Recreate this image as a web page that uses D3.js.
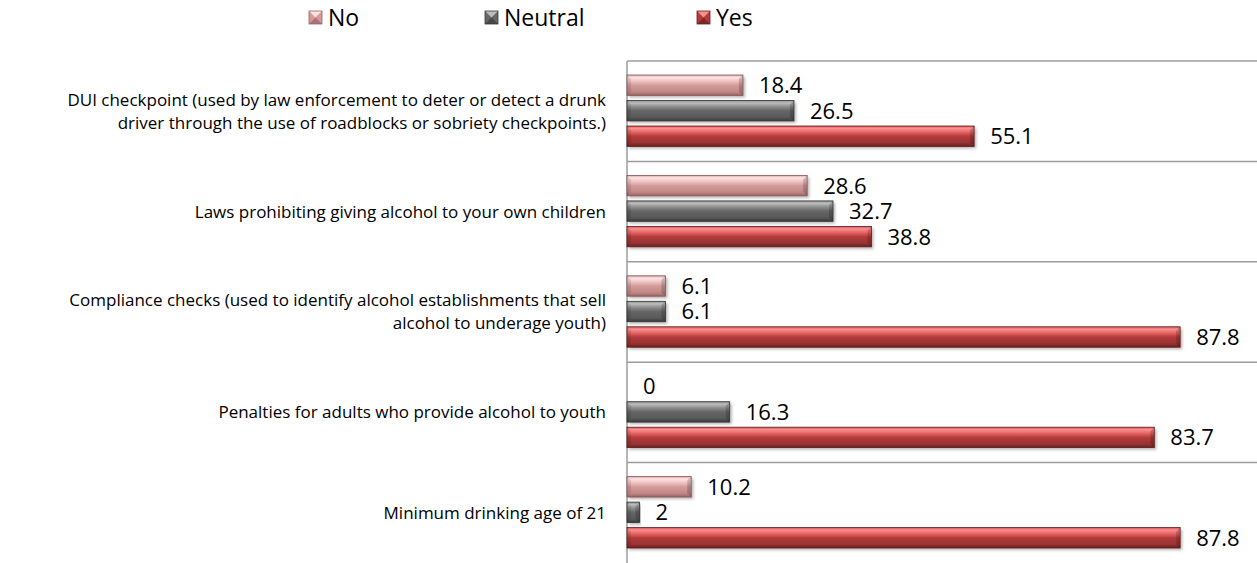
<!DOCTYPE html>
<html>
<head>
<meta charset="utf-8">
<script src="https://cdn.jsdelivr.net/npm/d3@7"></script>
<style>
  body { margin: 0; background: #fff; }
  svg { display: block; font-family: "Open Sans", sans-serif; }
</style>
</head>
<body>
<div id="chart"></div>
<script>
// chart values
var categories = [
    ["DUI checkpoint (used by law enforcement to deter or detect a drunk", "driver through the use of roadblocks or sobriety checkpoints.)"],
    ["Laws prohibiting giving alcohol to your own children"],
    ["Compliance checks (used to identify alcohol establishments that sell", "alcohol to underage youth)"],
    ["Penalties for adults who provide alcohol to youth"],
    ["Minimum drinking age of 21"]
];
var seriesNames = ["No", "Neutral", "Yes"];
var noValues = [18.4, 28.6, 6.1, 0, 10.2];
var neutralValues = [26.5, 32.7, 6.1, 16.3, 2];
var yesValues = [55.1, 38.8, 87.8, 83.7, 87.8];

var allValues = [noValues, neutralValues, yesValues];

var width = 1257, height = 563;
var plot = {left: 627, right: 1257, top: 61, bottom: 563};

var svg = d3.select("#chart").append("svg")
    .attr("width", width)
    .attr("height", height);

// gradient stops for the bevelled bars
var palettes = {
    "No":      ["#e2aaaa", "#fbe4e4", "#f0c3c3", "#d39b9b", "#c28888", "#9a6262"],
    "Neutral": ["#8c8c8c", "#bdbdbd", "#8e8e8e", "#666666", "#595959", "#3a3a3a"],
    "Yes":     ["#dc5656", "#f99090", "#e66464", "#b43b3b", "#983333", "#6a1f1f"]
};
var stopOffsets = [0, 0.12, 0.3, 0.5, 0.82, 1];

var defs = svg.append("defs");
seriesNames.forEach(function(s) {
    var g = defs.append("linearGradient")
        .attr("id", "grad_" + s)
        .attr("x1", 0).attr("y1", 0)
        .attr("x2", 0).attr("y2", 1);
    palettes[s].forEach(function(c, i) {
        g.append("stop").attr("offset", stopOffsets[i]).attr("stop-color", c);
    });
});

var shadow = defs.append("filter")
    .attr("id", "shadow")
    .attr("x", "-5%").attr("y", "-30%")
    .attr("width", "115%").attr("height", "180%");
shadow.append("feDropShadow")
    .attr("dx", 2).attr("dy", 2)
    .attr("stdDeviation", 1.5)
    .attr("flood-color", "#000")
    .attr("flood-opacity", 0.3);

// scales
var x = d3.scaleLinear()
    .domain([0, 100])
    .range([plot.left, plot.right]);

var y0 = d3.scaleBand()
    .domain(d3.range(categories.length))
    .range([plot.top, plot.bottom]);

var y1 = d3.scaleBand()
    .domain(seriesNames)
    .range([14, y0.bandwidth() - 15])
    .paddingInner(0.2);

// gridlines between categories
var bounds = d3.range(categories.length).map(function(i) { return y0(i); });
svg.selectAll(".grid")
    .data(bounds)
    .enter().append("line")
    .attr("class", "grid")
    .attr("x1", plot.left)
    .attr("x2", plot.right)
    .attr("y1", function(d) { return d; })
    .attr("y2", function(d) { return d; })
    .attr("stroke", "#9c9c9c")
    .attr("stroke-width", 1.5);

// vertical axis line
svg.append("line")
    .attr("x1", plot.left).attr("x2", plot.left)
    .attr("y1", plot.top).attr("y2", plot.bottom)
    .attr("stroke", "#9c9c9c")
    .attr("stroke-width", 1.5);

// category labels
var catLabel = svg.selectAll(".cat")
    .data(categories)
    .enter().append("text")
    .attr("class", "cat")
    .attr("text-anchor", "end")
    .attr("font-size", 17)
    .attr("fill", "#000");

catLabel.each(function(lines, i) {
    var t = d3.select(this);
    var mid = y0(i) + y0.bandwidth() / 2;
    var lh = 23;
    lines.forEach(function(line, j) {
        t.append("tspan")
            .attr("x", 606)
            .attr("y", mid + (j - (lines.length - 1) / 2) * lh)
            .attr("dy", "0.35em")
            .text(line);
    });
});

// bars
var bevel = 4;
var rows = [];
categories.forEach(function(c, i) {
    seriesNames.forEach(function(s, k) {
        rows.push({cat: i, series: s, value: allValues[k][i]});
    });
});

var bar = svg.selectAll(".bar")
    .data(rows)
    .enter().append("g")
    .attr("class", "bar")
    .attr("transform", function(d) { return "translate(0," + (y0(d.cat) + y1(d.series)) + ")"; });

bar.filter(function(d) { return d.value > 0; }).each(function(d) {
    var g = d3.select(this);
    var x0 = x(0), x1 = x(d.value), h = y1.bandwidth();
    var b = Math.min(bevel, (x1 - x0) / 2);

    g.append("rect")
        .attr("x", x0)
        .attr("y", 0)
        .attr("width", x1 - x0)
        .attr("height", h)
        .attr("fill", "url(#grad_" + d.series + ")")
        .attr("filter", "url(#shadow)");

    // right end bevel
    g.append("polygon")
        .attr("points", [[x1 - b, b], [x1, 0], [x1, h], [x1 - b, h - b]].join(" "))
        .attr("fill", "#000")
        .attr("opacity", 0.18);
    // left end bevel
    g.append("polygon")
        .attr("points", [[x0, 0], [x0 + b, b], [x0 + b, h - b], [x0, h]].join(" "))
        .attr("fill", "#000")
        .attr("opacity", 0.1);

    g.append("rect")
        .attr("x", x0)
        .attr("y", 0)
        .attr("width", x1 - x0)
        .attr("height", h)
        .attr("fill", "none")
        .attr("stroke", d3.color(palettes[d.series][5]).darker(0.4))
        .attr("stroke-width", 0.8);
});

// value labels
bar.append("text")
    .attr("x", function(d) { return x(d.value) + 16; })
    .attr("y", y1.bandwidth() / 2)
    .attr("dy", "0.36em")
    .attr("font-size", 22)
    .attr("fill", "#000")
    .text(function(d) { return d.value; });

// legend
var legendX = [309, 485, 697];
var legend = svg.selectAll(".legend")
    .data(seriesNames)
    .enter().append("g")
    .attr("class", "legend")
    .attr("transform", function(d, i) { return "translate(" + legendX[i] + ",11)"; });

legend.append("rect")
    .attr("width", 13)
    .attr("height", 13)
    .attr("fill", function(d) { return palettes[d][3]; });

legend.append("polygon")
    .attr("points", "0,0 13,0 6.5,6.5")
    .attr("fill", function(d) { return palettes[d][1]; });

legend.append("polygon")
    .attr("points", "0,13 13,13 6.5,6.5")
    .attr("fill", function(d) { return palettes[d][5]; })
    .attr("opacity", 0.7);

legend.append("rect")
    .attr("width", 13)
    .attr("height", 13)
    .attr("fill", "none")
    .attr("stroke", function(d) { return palettes[d][5]; })
    .attr("stroke-width", 0.8);

legend.append("text")
    .attr("x", 19)
    .attr("y", 6.5)
    .attr("dy", "0.36em")
    .attr("font-size", 23)
    .attr("fill", "#000")
    .text(function(d) { return d; });
</script>
</body>
</html>
